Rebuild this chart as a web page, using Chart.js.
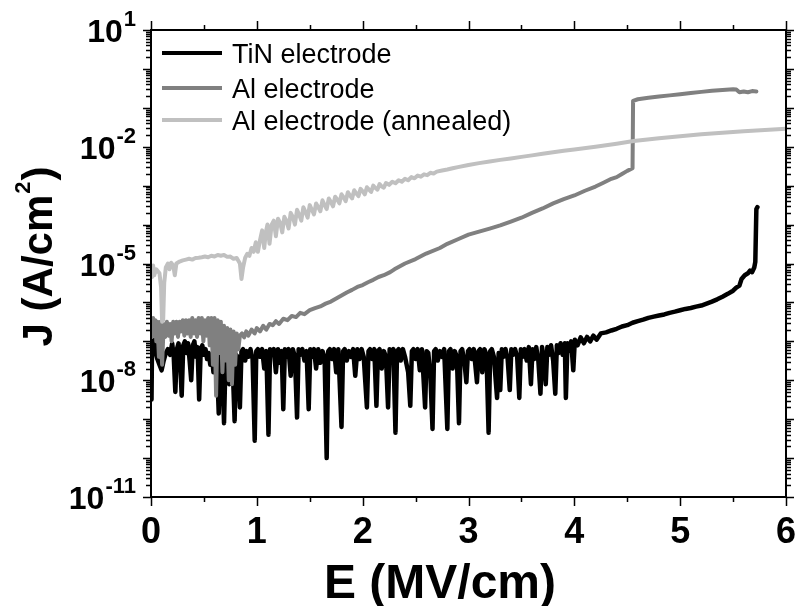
<!DOCTYPE html>
<html>
<head>
<meta charset="utf-8">
<script src="https://cdn.jsdelivr.net/npm/chart.js@4.4.1/dist/chart.umd.min.js"></script>
<style>
  html, body { margin: 0; padding: 0; background: #ffffff; }
  #wrap { width: 800px; height: 606px; }
</style>
</head>
<body>
<div id="wrap"><canvas id="c" width="800" height="606"></canvas></div>
<script>
// Leakage current density J (A/cm^2) versus applied field E (MV/cm), as [E, J] pairs.
const seriesNames = ['TiN electrode', 'Al electrode', 'Al electrode (annealed)'];
const seriesColors = ['#000000', '#808080', '#c0c0c0'];

const tinElectrode = [
  [0,5.0e-8],[0.005,3.2e-9],[0.01,1.0e-7],[0.02,6.3e-8],[0.03,1.1e-7],[0.045,5.0e-8],[0.06,3.5e-8],[0.08,2.5e-8],[0.1,1.8e-8],[0.12,3.2e-8],
  [0.14,5.0e-8],[0.16,6.3e-8],[0.18,4.5e-8],[0.2,8.9e-8],[0.215,4.0e-8],[0.23,5.0e-9],[0.245,6.3e-8],[0.26,8.9e-8],[0.275,3.2e-8],[0.29,4.0e-9],
  [0.305,7.9e-8],[0.32,1.0e-7],[0.335,5.0e-8],[0.35,8.9e-8],[0.365,3.2e-8],[0.38,1.0e-8],[0.395,7.9e-8],[0.41,1.0e-7],[0.425,4.0e-8],[0.44,7.1e-8],
  [0.455,3.2e-9],[0.47,6.3e-8],[0.485,7.9e-8],[0.5,4.5e-8],[0.515,6.3e-8],[0.53,3.5e-8],[0.545,5.0e-8],[0.56,2.5e-8],[0.575,4.5e-8],[0.59,1.6e-8],
  [0.605,3.2e-8],[0.62,5.0e-8],[0.64,1.4e-9],[0.655,3.5e-8],[0.67,5.0e-8],[0.69,7.9e-10],[0.705,4.0e-8],[0.72,5.0e-8],[0.74,7.9e-9],[0.755,5.0e-8],
  [0.77,3.2e-8],[0.79,8.9e-10],[0.805,4.5e-8],[0.82,4.0e-8],[0.84,2.0e-9],[0.855,5.6e-8],[0.87,6.3e-8],[0.89,3.2e-8],[0.905,5.6e-8],[0.92,4.0e-8],
  [0.94,6.3e-8],[0.96,3.5e-8],[0.98,2.8e-10],[0.995,5.6e-8],[1.01,6.3e-8],[1.03,4.0e-8],[1.05,6.3e-8],[1.07,2.0e-8],[1.09,5.6e-8],[1.11,4.0e-10],
  [1.125,6.3e-8],[1.14,4.5e-8],[1.16,6.3e-8],[1.18,1.6e-8],[1.2,6.3e-8],[1.22,2.8e-8],[1.235,5.6e-8],[1.25,1.8e-9],[1.265,6.3e-8],[1.28,4.0e-8],
  [1.3,6.3e-8],[1.32,1.3e-8],[1.34,6.3e-8],[1.36,4.0e-8],[1.38,1.1e-9],[1.395,6.3e-8],[1.41,4.5e-8],[1.43,6.3e-8],[1.45,3.2e-8],[1.47,5.6e-8],
  [1.49,1.8e-9],[1.505,6.3e-8],[1.52,4.0e-8],[1.54,6.3e-8],[1.56,2.0e-8],[1.58,6.3e-8],[1.6,2.8e-8],[1.62,5.6e-8],[1.64,4.0e-8],[1.66,1.0e-10],
  [1.675,5.6e-8],[1.69,6.3e-8],[1.71,3.5e-8],[1.73,6.3e-8],[1.75,1.6e-8],[1.77,6.3e-8],[1.8,6.3e-10],[1.815,5.6e-8],[1.83,6.3e-8],[1.85,3.2e-8],
  [1.87,5.6e-8],[1.89,4.0e-8],[1.91,6.3e-8],[1.93,1.3e-8],[1.95,6.3e-8],[1.97,3.5e-8],[1.99,6.3e-8],[2.01,4.0e-8],[2.04,2.0e-9],[2.055,5.6e-8],
  [2.07,6.3e-8],[2.09,3.5e-8],[2.11,6.3e-8],[2.13,2.2e-9],[2.145,5.6e-8],[2.16,6.3e-8],[2.18,2.0e-8],[2.2,5.6e-8],[2.22,4.0e-8],[2.24,2.0e-9],
  [2.255,6.3e-8],[2.27,4.0e-8],[2.29,6.3e-8],[2.31,4.5e-10],[2.325,5.6e-8],[2.34,6.3e-8],[2.36,3.2e-8],[2.38,6.3e-8],[2.4,4.0e-8],[2.43,1.6e-8],
  [2.45,2.2e-9],[2.465,5.6e-8],[2.48,6.3e-8],[2.5,3.5e-8],[2.52,6.3e-8],[2.54,1.8e-8],[2.56,6.3e-8],[2.59,2.0e-9],[2.605,5.6e-8],[2.62,5.0e-8],
  [2.64,1.3e-8],[2.66,5.6e-10],[2.675,5.6e-8],[2.69,6.3e-8],[2.71,3.2e-8],[2.73,5.6e-8],[2.75,4.0e-8],[2.77,6.3e-8],[2.8,5.6e-10],[2.815,5.6e-8],
  [2.83,6.3e-8],[2.85,2.0e-8],[2.87,5.6e-8],[2.89,4.0e-8],[2.91,7.9e-10],[2.925,5.6e-8],[2.94,6.3e-8],[2.96,3.2e-8],[2.98,8.9e-9],[2.995,5.6e-8],
  [3.01,6.3e-8],[3.03,3.5e-8],[3.05,6.3e-8],[3.08,8.9e-9],[3.095,5.6e-8],[3.11,6.3e-8],[3.13,1.6e-8],[3.15,6.3e-8],[3.17,4.5e-8],[3.19,4.5e-10],
  [3.205,5.6e-8],[3.22,6.3e-8],[3.24,4.0e-8],[3.27,3.5e-9],[3.285,5.0e-8],[3.3,5.6e-9],[3.315,6.3e-8],[3.33,4.0e-8],[3.35,6.3e-8],[3.37,3.5e-8],
  [3.39,5.6e-9],[3.405,6.3e-8],[3.42,4.5e-8],[3.44,6.3e-8],[3.46,4.0e-8],[3.48,3.5e-9],[3.495,6.3e-8],[3.51,4.0e-8],[3.53,6.3e-8],[3.55,3.2e-8],
  [3.57,7.1e-8],[3.59,7.9e-9],[3.605,6.3e-8],[3.62,3.5e-8],[3.64,7.1e-8],[3.66,3.2e-8],[3.68,4.5e-9],[3.695,7.1e-8],[3.71,4.0e-8],[3.73,7.9e-9],
  [3.745,7.1e-8],[3.76,4.5e-8],[3.78,7.9e-8],[3.8,3.2e-8],[3.82,4.5e-9],[3.835,7.9e-8],[3.85,5.0e-8],[3.87,8.9e-8],[3.89,4.5e-8],[3.91,8.9e-8],
  [3.92,3.5e-9],[3.935,8.9e-8],[3.95,5.6e-8],[3.97,1.0e-7],[3.99,1.8e-8],[4.005,1.1e-7],[4.03,7.9e-8],[4.06,1.26e-7],[4.09,8.9e-8],[4.12,1.3e-7],
  [4.15,1.0e-7],[4.18,1.4e-7],[4.21,1.1e-7],[4.25,1.6e-7],[4.3,1.7e-7],[4.35,1.9e-7],[4.4,2.1e-7],[4.45,2.4e-7],[4.5,2.6e-7],[4.55,3.0e-7],
  [4.6,3.3e-7],[4.65,3.6e-7],[4.7,4.0e-7],[4.75,4.3e-7],[4.8,4.6e-7],[4.85,4.9e-7],[4.9,5.4e-7],[4.95,5.8e-7],[5.0,6.3e-7],[5.05,6.8e-7],
  [5.1,7.2e-7],[5.15,7.8e-7],[5.2,8.3e-7],[5.25,9.3e-7],[5.3,1.05e-6],[5.35,1.2e-6],[5.4,1.4e-6],[5.45,1.66e-6],[5.5,2.0e-6],[5.53,2.4e-6],
  [5.56,2.7e-6],[5.58,4.0e-6],[5.61,5.0e-6],[5.64,5.6e-6],[5.66,6.6e-6],[5.68,6.0e-6],[5.7,7.9e-6],[5.71,1.1e-5],[5.72,2.5e-4],[5.73,2.8e-4]
];

const alElectrode = [
  [0,3.5e-7],[0.01,1.3e-7],[0.02,4.0e-7],[0.03,1.8e-7],[0.04,3.5e-7],[0.05,1.0e-7],[0.06,3.2e-7],[0.075,4.0e-8],[0.09,3.2e-7],[0.105,2.5e-8],
  [0.12,2.8e-7],[0.135,1.3e-7],[0.15,3.2e-7],[0.165,1.4e-7],[0.18,2.8e-7],[0.195,1.0e-7],[0.21,3.2e-7],[0.225,1.6e-7],[0.24,3.2e-7],[0.255,1.3e-7],
  [0.27,3.2e-7],[0.285,1.8e-7],[0.3,3.5e-7],[0.315,1.4e-7],[0.33,3.5e-7],[0.345,1.6e-7],[0.36,3.5e-7],[0.375,1.3e-7],[0.39,4.0e-7],[0.405,1.6e-7],
  [0.42,3.5e-7],[0.435,1.3e-7],[0.45,4.0e-7],[0.465,1.6e-7],[0.48,4.0e-7],[0.495,1.0e-7],[0.51,3.5e-7],[0.525,1.4e-7],[0.54,4.0e-7],[0.555,7.9e-8],
  [0.57,4.0e-7],[0.585,2.5e-8],[0.6,4.0e-7],[0.615,4.0e-9],[0.63,3.5e-7],[0.645,5.0e-8],[0.66,3.2e-7],[0.675,1.6e-8],[0.69,2.5e-7],[0.705,3.2e-8],
  [0.72,2.2e-7],[0.735,1.0e-8],[0.75,2.0e-7],[0.765,7.9e-9],[0.78,1.8e-7],[0.795,2.5e-8],[0.81,1.6e-7],[0.825,6.3e-8],[0.84,1.4e-7],[0.86,1.6e-7],
  [0.88,1.26e-7],[0.9,1.8e-7],[0.92,1.4e-7],[0.95,2.0e-7],[0.98,1.6e-7],[1.0,2.2e-7],[1.03,1.8e-7],[1.06,2.5e-7],[1.09,2.0e-7],[1.12,2.8e-7],
  [1.15,2.6e-7],[1.18,3.3e-7],[1.21,2.8e-7],[1.25,3.8e-7],[1.29,3.5e-7],[1.33,4.5e-7],[1.37,4.2e-7],[1.41,5.4e-7],[1.45,5.0e-7],[1.5,6.3e-7],
  [1.55,7.1e-7],[1.6,7.9e-7],[1.65,9.3e-7],[1.7,1.05e-6],[1.75,1.26e-6],[1.8,1.5e-6],[1.85,1.8e-6],[1.9,2.1e-6],[1.95,2.5e-6],[2.0,2.8e-6],
  [2.05,3.3e-6],[2.1,3.8e-6],[2.15,4.5e-6],[2.2,5.0e-6],[2.26,6.0e-6],[2.3,7.1e-6],[2.4,1.0e-5],[2.5,1.3e-5],[2.6,1.8e-5],[2.73,2.5e-5],
  [2.8,3.2e-5],[2.9,4.2e-5],[3.0,5.5e-5],[3.1,6.6e-5],[3.2,7.9e-5],[3.3,9.5e-5],[3.4,1.2e-4],[3.5,1.5e-4],[3.6,2.0e-4],[3.7,2.6e-4],
  [3.8,3.5e-4],[3.9,4.5e-4],[4.0,5.6e-4],[4.1,7.4e-4],[4.2,9.5e-4],[4.27,1.17e-3],[4.35,1.5e-3],[4.4,1.66e-3],[4.45,2.0e-3],[4.5,2.4e-3],
  [4.55,2.8e-3],[4.555,0.151],[4.6,0.166],[4.7,0.182],[4.8,0.195],[4.9,0.209],[5.0,0.224],[5.1,0.24],[5.2,0.257],[5.3,0.275],
  [5.4,0.288],[5.5,0.302],[5.53,0.295],[5.56,0.251],[5.6,0.263],[5.64,0.251],[5.68,0.269],[5.72,0.263]
];

const alAnnealed = [
  [0,7.9e-6],[0.01,4.5e-6],[0.02,8.9e-6],[0.03,5.0e-6],[0.05,7.1e-6],[0.08,5.6e-6],[0.095,2.5e-6],[0.105,3.2e-7],[0.115,3.5e-7],[0.125,3.2e-6],
  [0.14,7.9e-6],[0.16,1.0e-5],[0.175,7.1e-6],[0.19,1.05e-5],[0.21,8.9e-6],[0.225,5.0e-6],[0.24,1.0e-5],[0.27,1.12e-5],[0.3,1.2e-5],[0.33,1.26e-5],
  [0.36,1.32e-5],[0.39,1.26e-5],[0.42,1.38e-5],[0.45,1.41e-5],[0.48,1.45e-5],[0.51,1.51e-5],[0.54,1.45e-5],[0.57,1.58e-5],[0.6,1.51e-5],[0.63,1.66e-5],
  [0.66,1.58e-5],[0.69,1.66e-5],[0.72,1.48e-5],[0.75,1.51e-5],[0.78,1.32e-5],[0.81,1.38e-5],[0.84,1.0e-5],[0.855,4.0e-6],[0.87,7.9e-6],[0.89,1.41e-5],
  [0.91,1.78e-5],[0.93,1.58e-5],[0.95,2.5e-5],[0.97,2.0e-5],[0.99,3.5e-5],[1.01,2.0e-5],[1.03,4.0e-5],[1.05,7.1e-5],[1.07,2.5e-5],[1.085,6.3e-5],
  [1.1,1.0e-4],[1.12,3.2e-5],[1.14,1.0e-4],[1.16,1.26e-4],[1.18,5.0e-5],[1.2,1.41e-4],[1.22,1.12e-4],[1.24,6.3e-5],[1.26,1.58e-4],[1.28,1.26e-4],
  [1.3,7.9e-5],[1.32,2.0e-4],[1.34,1.58e-4],[1.36,1.0e-4],[1.38,2.4e-4],[1.4,1.78e-4],[1.42,1.26e-4],[1.44,2.8e-4],[1.46,2.1e-4],[1.48,1.51e-4],
  [1.5,3.16e-4],[1.52,2.4e-4],[1.54,1.82e-4],[1.56,3.5e-4],[1.58,2.8e-4],[1.6,2.2e-4],[1.62,4.2e-4],[1.64,3.16e-4],[1.66,2.5e-4],[1.68,4.7e-4],
  [1.7,3.8e-4],[1.72,2.95e-4],[1.74,5.2e-4],[1.76,4.4e-4],[1.78,3.5e-4],[1.8,6.0e-4],[1.82,5.0e-4],[1.84,4.0e-4],[1.86,6.8e-4],[1.88,5.6e-4],
  [1.9,4.7e-4],[1.92,7.6e-4],[1.94,6.3e-4],[1.96,5.4e-4],[1.98,8.3e-4],[2.0,7.2e-4],[2.02,6.0e-4],[2.04,9.1e-4],[2.06,7.9e-4],[2.08,6.9e-4],
  [2.1,1.0e-3],[2.12,8.7e-4],[2.14,7.9e-4],[2.16,1.1e-3],[2.18,9.5e-4],[2.2,8.9e-4],[2.22,1.17e-3],[2.25,1.05e-3],[2.28,1.26e-3],[2.31,1.15e-3],
  [2.34,1.38e-3],[2.37,1.26e-3],[2.4,1.5e-3],[2.43,1.38e-3],[2.46,1.66e-3],[2.49,1.55e-3],[2.52,1.82e-3],[2.55,1.7e-3],[2.58,1.95e-3],[2.61,1.86e-3],
  [2.64,2.14e-3],[2.67,2.04e-3],[2.7,2.3e-3],[2.75,2.45e-3],[2.8,2.6e-3],[2.85,2.8e-3],[2.9,3.0e-3],[3.0,3.4e-3],[3.1,3.8e-3],[3.2,4.2e-3],
  [3.3,4.6e-3],[3.4,5.0e-3],[3.5,5.5e-3],[3.6,6.0e-3],[3.7,6.6e-3],[3.8,7.2e-3],[3.9,7.9e-3],[4.0,8.5e-3],[4.2,1.0e-2],[4.4,1.2e-2],
  [4.56,1.41e-2],[4.8,1.66e-2],[5.0,1.86e-2],[5.2,2.1e-2],[5.4,2.3e-2],[5.6,2.5e-2],[5.8,2.7e-2],[6.0,2.9e-2]
];

// Axis tick values
const xMajorTicks = [0, 1, 2, 3, 4, 5, 6];
const xMinorTicks = [0.5, 1.5, 2.5, 3.5, 4.5, 5.5];
const yDecades = [-11, -10, -9, -8, -7, -6, -5, -4, -3, -2, -1, 0, 1];
const yLabelledDecades = [1, -2, -5, -8, -11];
const yMinorMultipliers = [2, 3, 4, 5, 6, 7, 8, 9];

const FONT = '"Liberation Sans", Arial, Helvetica, sans-serif';

function toPoints(pairs) {
  return pairs.map(p => ({ x: p[0], y: p[1] }));
}

// Frame, tick marks, tick labels, axis titles and legend
const decorations = {
  id: 'decorations',
  afterDatasetsDraw(chart) {
    const ctx = chart.ctx;
    const a = chart.chartArea;
    const xs = chart.scales.x;
    const ys = chart.scales.y;
    ctx.save();
    ctx.strokeStyle = '#000';
    ctx.fillStyle = '#000';
    ctx.lineWidth = 2;
    ctx.strokeRect(a.left, a.top, a.right - a.left, a.bottom - a.top);

    ctx.lineWidth = 1.5;
    ctx.beginPath();
    xMajorTicks.forEach(v => {
      const px = Math.round(xs.getPixelForValue(v)) + 0.5;
      ctx.moveTo(px, a.bottom); ctx.lineTo(px, a.bottom + 9);
      ctx.moveTo(px, a.top); ctx.lineTo(px, a.top - 9);
    });
    xMinorTicks.forEach(v => {
      const px = Math.round(xs.getPixelForValue(v)) + 0.5;
      ctx.moveTo(px, a.bottom); ctx.lineTo(px, a.bottom + 5);
      ctx.moveTo(px, a.top); ctx.lineTo(px, a.top - 5);
    });
    yDecades.forEach(e => {
      const py = Math.round(ys.getPixelForValue(Math.pow(10, e))) + 0.5;
      ctx.moveTo(a.left, py); ctx.lineTo(a.left - 8, py);
      ctx.moveTo(a.right, py); ctx.lineTo(a.right + 8, py);
      if (e < 1) {
        yMinorMultipliers.forEach(m => {
          const q = Math.round(ys.getPixelForValue(m * Math.pow(10, e))) + 0.5;
          ctx.moveTo(a.left, q); ctx.lineTo(a.left - 5, q);
          ctx.moveTo(a.right, q); ctx.lineTo(a.right + 5, q);
        });
      }
    });
    ctx.stroke();

    // x tick labels
    ctx.font = 'bold 36px ' + FONT;
    ctx.textAlign = 'center';
    ctx.textBaseline = 'alphabetic';
    xMajorTicks.forEach(v => {
      ctx.fillText(String(v), xs.getPixelForValue(v), 543);
    });

    // y tick labels as powers of ten
    yLabelledDecades.forEach(e => {
      const py = ys.getPixelForValue(Math.pow(10, e));
      const sup = String(e);
      ctx.font = 'bold 22px ' + FONT;
      const ws = ctx.measureText(sup).width;
      ctx.textAlign = 'left';
      ctx.fillText(sup, 136 - ws, py - 4);
      ctx.font = 'bold 32px ' + FONT;
      ctx.textAlign = 'right';
      ctx.fillText('10', 136 - ws - 1, py + 12);
    });

    // x axis title
    ctx.font = 'bold 48px ' + FONT;
    ctx.textAlign = 'center';
    ctx.fillText('E (MV/cm)', 440, 598);

    // y axis title with superscript
    ctx.save();
    ctx.translate(52, (a.top + a.bottom) / 2 - 6);
    ctx.rotate(-Math.PI / 2);
    ctx.textAlign = 'left';
    const main = 'J (A/cm';
    ctx.font = 'bold 42px ' + FONT;
    const w1 = ctx.measureText(main).width;
    const w3 = ctx.measureText(')').width;
    ctx.font = 'bold 22px ' + FONT;
    const w2 = ctx.measureText('2').width;
    let x0 = -(w1 + w2 + w3) / 2;
    ctx.font = 'bold 42px ' + FONT;
    ctx.fillText(main, x0, 0);
    ctx.font = 'bold 22px ' + FONT;
    ctx.fillText('2', x0 + w1 + 1, -22);
    ctx.font = 'bold 42px ' + FONT;
    ctx.fillText(')', x0 + w1 + w2 + 2, 0);
    ctx.restore();

    // legend
    const rows = [53, 88, 120];
    ctx.font = '27px ' + FONT;
    ctx.textAlign = 'left';
    ctx.textBaseline = 'alphabetic';
    seriesNames.forEach((name, i) => {
      ctx.strokeStyle = seriesColors[i];
      ctx.lineWidth = 4;
      ctx.beginPath();
      ctx.moveTo(162, rows[i]);
      ctx.lineTo(222, rows[i]);
      ctx.stroke();
      ctx.fillStyle = '#000';
      ctx.fillText(name, 232, rows[i] + 10);
    });
    ctx.restore();
  }
};

const datasets = [tinElectrode, alElectrode, alAnnealed].map((d, i) => ({
  label: seriesNames[i],
  data: toPoints(d),
  borderColor: seriesColors[i],
  backgroundColor: seriesColors[i],
  borderWidth: i === 0 ? 4.5 : 4,
  borderJoinStyle: 'round',
  borderCapStyle: 'round',
  pointRadius: 0,
  tension: 0,
  fill: false,
  order: 3 - i
}));

new Chart(document.getElementById('c'), {
  type: 'line',
  data: { datasets },
  options: {
    responsive: false,
    animation: false,
    devicePixelRatio: 1,
    layout: { padding: { top: 30, right: 14, left: 0, bottom: 0 } },
    plugins: { legend: { display: false }, tooltip: { enabled: false } },
    scales: {
      x: {
        type: 'linear', min: 0, max: 6,
        grid: { display: false }, border: { display: false },
        ticks: { display: false },
        afterFit(s) { s.height = 109; }
      },
      y: {
        type: 'logarithmic', min: 1e-11, max: 10,
        grid: { display: false }, border: { display: false },
        ticks: { display: false },
        afterFit(s) { s.width = 151; }
      }
    }
  },
  plugins: [decorations]
});
</script>
</body>
</html>
